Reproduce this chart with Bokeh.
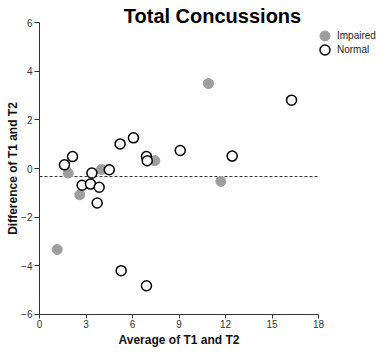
import math
from bokeh.plotting import figure
from bokeh.models import (LinearAxis, Range1d, Label, Legend, LegendItem,
                          FixedTicker)
from bokeh.embed import file_html
from bokeh.resources import INLINE

# ---- data ----
impaired_x = [1.14, 1.85, 2.60, 4.00, 7.44, 10.90, 11.70]
impaired_y = [-3.33, -0.19, -1.08, -0.04, 0.32, 3.49, -0.53]

normal_x = [1.61, 2.13, 2.75, 3.29, 3.38, 3.72, 3.85, 4.50, 5.20, 5.27,
            6.06, 6.90, 6.95, 6.90, 9.08, 12.43, 16.26]
normal_y = [0.15, 0.49, -0.69, -0.64, -0.19, -1.42, -0.77, -0.05, 1.01, -4.20,
            1.26, 0.49, 0.32, -4.82, 0.74, 0.51, 2.81]

mean_diff = -0.33
x_ticks = [0, 3, 6, 9, 12, 15, 18]
y_ticks = [-6, -4, -2, 0, 2, 4, 6]
title_text = "Total Concussions"
x_label = "Average of T1 and T2"
y_label = "Difference of T1 and T2"

FONT = "Liberation Sans"

# The frame fills the whole canvas; both axes are drawn at fixed locations and
# bounded to the real data extents, so the titles and legend can sit exactly
# where the reference has them.
p = figure(width=378, height=356, output_backend="svg", toolbar_location=None,
           x_range=Range1d(-2.516, 21.87), y_range=Range1d(-7.727, 6.905),
           x_axis_type=None, y_axis_type=None,
           min_border_left=0, min_border_right=0,
           min_border_top=0, min_border_bottom=0)
p.outline_line_color = None
p.xgrid.visible = False
p.ygrid.visible = False
p.background_fill_color = "white"
p.border_fill_color = "white"

xaxis = LinearAxis(ticker=FixedTicker(ticks=x_ticks),
                   bounds=(x_ticks[0], x_ticks[-1]), fixed_location=y_ticks[0])
yaxis = LinearAxis(ticker=FixedTicker(ticks=y_ticks),
                   bounds=(y_ticks[0], y_ticks[-1]), fixed_location=x_ticks[0])
for ax in (xaxis, yaxis):
    ax.axis_line_color = "#333333"
    ax.major_tick_line_color = "#333333"
    ax.minor_tick_line_color = None
    ax.major_tick_in = 0
    ax.major_label_text_font = FONT
    ax.major_label_text_font_size = "10px"
    ax.major_label_text_color = "#333333"
xaxis.major_tick_out = 4
xaxis.major_label_standoff = 2
yaxis.major_tick_out = 5
yaxis.major_label_standoff = 2
p.add_layout(xaxis, "below")
p.add_layout(yaxis, "left")

# axis titles, centred on the bounded axes
p.add_layout(Label(x=(x_ticks[0] + x_ticks[-1]) / 2, y=-7.03, text=x_label,
                   text_align="center", text_baseline="middle", text_font=FONT,
                   text_font_size="12px", text_font_style="bold",
                   text_color="#111111"))
p.add_layout(Label(x=-1.68, y=(y_ticks[0] + y_ticks[-1]) / 2, text=y_label,
                   angle=math.pi / 2, text_align="center",
                   text_baseline="middle", text_font=FONT,
                   text_font_size="12px", text_font_style="bold",
                   text_color="#111111"))

# mean difference line across the x-axis extent
p.line(x=[x_ticks[0], x_ticks[-1]], y=[mean_diff, mean_diff],
       line_color="#333333", line_width=1, line_dash="3 2")

r_imp = p.scatter(impaired_x, impaired_y, size=10, fill_color="#9e9e9e",
                  line_color="#9e9e9e", line_width=1)
r_norm = p.scatter(normal_x, normal_y, size=10, fill_color="white",
                   line_color="black", line_width=1.5)

p.add_layout(Label(x=11.16, y=6.288, text=title_text, text_align="center",
                   text_baseline="middle", text_font=FONT,
                   text_font_size="20px", text_font_style="bold",
                   text_color="black"))

legend_style = dict(orientation="vertical", glyph_width=25, glyph_height=25,
                    label_height=10, label_width=10, label_standoff=0,
                    spacing=0, padding=0, margin=0,
                    label_text_font=FONT, label_text_font_size="10px",
                    label_text_color="#222222",
                    border_line_color=None, background_fill_alpha=0)
legend_imp = Legend(items=[LegendItem(label="Impaired", renderers=[r_imp])],
                    location=(312, 308), **legend_style)
legend_norm = Legend(items=[LegendItem(label="Normal", renderers=[r_norm])],
                     location=(312, 294), **legend_style)
p.add_layout(legend_imp, "center")
p.add_layout(legend_norm, "center")

open("out.html", "w").write(file_html(p, INLINE))
